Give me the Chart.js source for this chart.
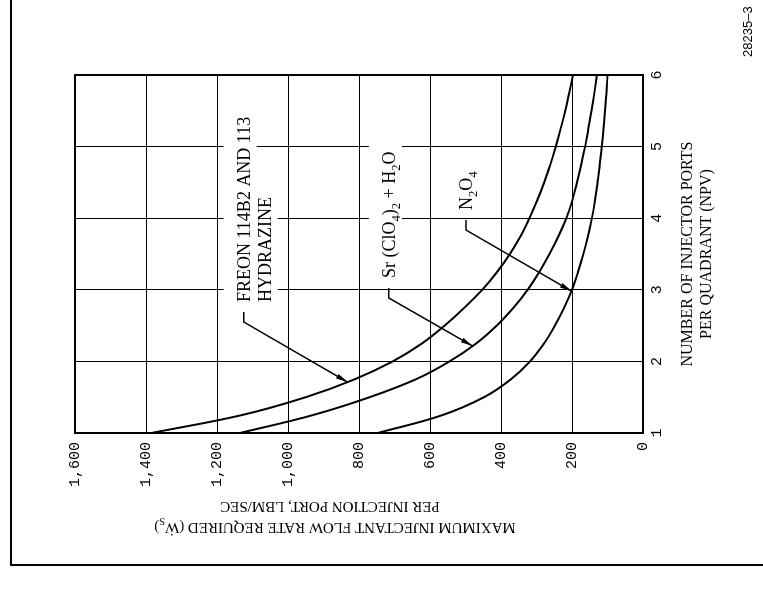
<!DOCTYPE html>
<html>
<head>
<meta charset="utf-8">
<script src="https://cdn.jsdelivr.net/npm/chart.js@4.4.1/dist/chart.umd.min.js"></script>
<style>
  html, body { margin: 0; padding: 0; background: #fff; overflow: hidden; }
  /* the figure is printed sideways on the page, so draw it upright and turn it */
  #page {
    position: absolute; left: 0; top: 0;
    width: 590px; height: 763px;
    transform-origin: 0 0;
    transform: translate(0, 590px) rotate(-90deg);
  }
</style>
</head>
<body>
<div id="page"><canvas id="flowChart" width="590" height="763"></canvas></div>
<script>
// Number of injector ports per quadrant (NPV)
const npv = [1, 1.25, 1.5, 1.75, 2, 2.25, 2.5, 2.75, 3, 3.25, 3.5, 3.75, 4, 4.25, 4.5, 4.75, 5, 5.25, 5.5, 5.75, 6];
// Maximum injectant flow rate required, LBM/SEC
const freonHydrazine = [1385, 1130, 950, 812, 705, 623, 559, 503, 453, 411, 375, 345, 320, 298, 278, 261, 246, 232, 219, 208, 197];
const srPerchlorate = [1135, 930, 770, 640, 545, 470, 412, 365, 325, 292, 264, 238, 216, 199, 186, 174, 163, 154, 145, 137, 130];
const n2o4 = [747, 565, 448, 372, 318, 279, 248, 222, 200, 183, 168, 155, 144, 135, 128, 122, 116, 111, 107, 103, 100];

const npvTicks = [1, 2, 3, 4, 5, 6];
const npvTickLabels = ['1', '2', '3', '4', '5', '6'];
const flowTicks = [0, 200, 400, 600, 800, 1000, 1200, 1400, 1600];
const flowTickLabels = ['0', '200', '400', '600', '800', '1,000', '1,200', '1,400', '1,600'];

const serif = '"Liberation Serif", "Times New Roman", serif';
const mono = '"Liberation Mono", "Courier New", monospace';

// curve labels: text start (npv, flow) and where the leader arrow touches the curve
const curveLabels = [
    { lines: [[{ t: 'FREON 114B2 AND 113' }], [{ t: 'HYDRAZINE' }]], at: [2.83, 1108], tip: [1.71, 832] },
    { lines: [[{ t: 'Sr (ClO' }, { t: '4', sub: true }, { t: ')' }, { t: '2', sub: true }, { t: ' + H' }, { t: '2', sub: true }, { t: 'O' }]], at: [3.165, 699], tip: [2.215, 480] },
    { lines: [[{ t: 'N' }, { t: '2', sub: true }, { t: 'O' }, { t: '4', sub: true }]], at: [4.115, 482], tip: [2.98, 201] }
];

function pairs(ys) {
    return npv.map((n, i) => ({ x: n, y: ys[i] }));
}

function richWidth(ctx, segs, size) {
    let w = 0;
    segs.forEach(s => {
        ctx.font = (s.sub ? size * 0.7 : size) + 'px ' + serif;
        w += ctx.measureText(s.t).width;
    });
    return w;
}

function drawRich(ctx, segs, x, y, size) {
    segs.forEach(s => {
        ctx.font = (s.sub ? size * 0.7 : size) + 'px ' + serif;
        ctx.fillText(s.t, x, s.sub ? y + size * 0.3 : y);
        x += ctx.measureText(s.t).width;
    });
}

const figureText = {
    id: 'figureText',
    afterDraw(chart) {
        const ctx = chart.ctx;
        const area = chart.chartArea;
        const xs = chart.scales.x;
        const ys = chart.scales.y;
        ctx.save();
        ctx.strokeStyle = '#000';
        ctx.fillStyle = '#000';
        ctx.textBaseline = 'alphabetic';

        // plot frame
        ctx.lineWidth = 2;
        ctx.strokeRect(area.left, area.top, area.right - area.left, area.bottom - area.top);

        // page border
        ctx.beginPath();
        ctx.moveTo(590, 11);
        ctx.lineTo(25, 11);
        ctx.lineTo(25, 763);
        ctx.stroke();

        // curve labels with leaders
        const size = 18, gap = 21;
        curveLabels.forEach(lab => {
            const x0 = xs.getPixelForValue(lab.at[0]);
            const y0 = ys.getPixelForValue(lab.at[1]);
            lab.lines.forEach((segs, i) => {
                const w = richWidth(ctx, segs, size);
                ctx.fillStyle = '#fff';
                ctx.fillRect(x0 - 4, y0 + i * gap - 26, w + 10, 33);
            });
            ctx.fillStyle = '#000';
            ctx.textAlign = 'left';
            lab.lines.forEach((segs, i) => drawRich(ctx, segs, x0, y0 + i * gap, size));

            const tx = xs.getPixelForValue(lab.tip[0]);
            const ty = ys.getPixelForValue(lab.tip[1]);
            const bx = x0 - 20, by = y0 - 6;
            ctx.lineWidth = 1.5;
            ctx.beginPath();
            ctx.moveTo(x0 - 10, by);
            ctx.lineTo(bx, by);
            ctx.lineTo(tx, ty);
            ctx.stroke();
            const ang = Math.atan2(ty - by, tx - bx);
            ctx.save();
            ctx.translate(tx, ty);
            ctx.rotate(ang);
            ctx.beginPath();
            ctx.moveTo(0, 0);
            ctx.lineTo(-12, -2.6);
            ctx.lineTo(-12, 2.6);
            ctx.closePath();
            ctx.fill();
            ctx.restore();
        });

        // y axis title (reads upward)
        const title1 = [{ t: 'MAXIMUM INJECTANT FLOW RATE REQUIRED (\u1E86' }, { t: 'S', sub: true }, { t: ')' }];
        const title2 = [{ t: 'PER INJECTION PORT, LBM/SEC' }];
        [[title1, 67, 335], [title2, 88, 330]].forEach(([segs, u, v]) => {
            ctx.save();
            ctx.translate(u, v);
            ctx.rotate(-Math.PI / 2);
            drawRich(ctx, segs, -richWidth(ctx, segs, 15) / 2, 0, 15);
            ctx.restore();
        });

        // x axis title
        const cx = (area.left + area.right) / 2;
        ctx.font = '16px ' + serif;
        ctx.textAlign = 'center';
        ctx.fillText('NUMBER OF INJECTOR PORTS', cx, 692);
        ctx.fillText('PER QUADRANT (NPV)', cx, 711);

        // figure number
        ctx.font = '13px "Liberation Sans", Arial, sans-serif';
        ctx.textAlign = 'left';
        ctx.fillText('28235\u20133', 533, 752);
        ctx.restore();
    }
};

const lineStyle = { borderColor: '#000', borderWidth: 2, pointRadius: 0, fill: false, tension: 0.4 };

new Chart(document.getElementById('flowChart').getContext('2d'), {
    type: 'line',
    data: {
        datasets: [
            Object.assign({ label: 'FREON 114B2 AND 113 / HYDRAZINE', data: pairs(freonHydrazine) }, lineStyle),
            Object.assign({ label: 'Sr (ClO4)2 + H2O', data: pairs(srPerchlorate) }, lineStyle),
            Object.assign({ label: 'N2O4', data: pairs(n2o4) }, lineStyle)
        ]
    },
    options: {
        responsive: false,
        animation: false,
        devicePixelRatio: 1,
        layout: { padding: { top: 75, right: 75, bottom: 0, left: 0 } },
        plugins: { legend: { display: false }, tooltip: { enabled: false } },
        scales: {
            x: {
                type: 'linear',
                min: 1,
                max: 6,
                afterBuildTicks: s => { s.ticks = npvTicks.map(v => ({ value: v })); },
                afterFit: s => { s.height = 120; },
                ticks: {
                    callback: (v, i) => npvTickLabels[i],
                    font: { family: mono, size: 15 },
                    color: '#000',
                    padding: 5,
                    maxRotation: 0
                },
                grid: { color: '#000', lineWidth: 1, drawTicks: false },
                border: { color: '#000', width: 2 }
            },
            y: {
                type: 'linear',
                min: 0,
                max: 1600,
                afterBuildTicks: s => { s.ticks = flowTicks.map(v => ({ value: v })); },
                afterFit: s => { s.width = 157; },
                ticks: {
                    callback: (v, i) => flowTickLabels[i],
                    font: { family: mono, size: 15 },
                    color: '#000',
                    padding: 9
                },
                grid: { color: '#000', lineWidth: 1, drawTicks: false },
                border: { color: '#000', width: 2 }
            }
        }
    },
    plugins: [figureText]
});
</script>
</body>
</html>
